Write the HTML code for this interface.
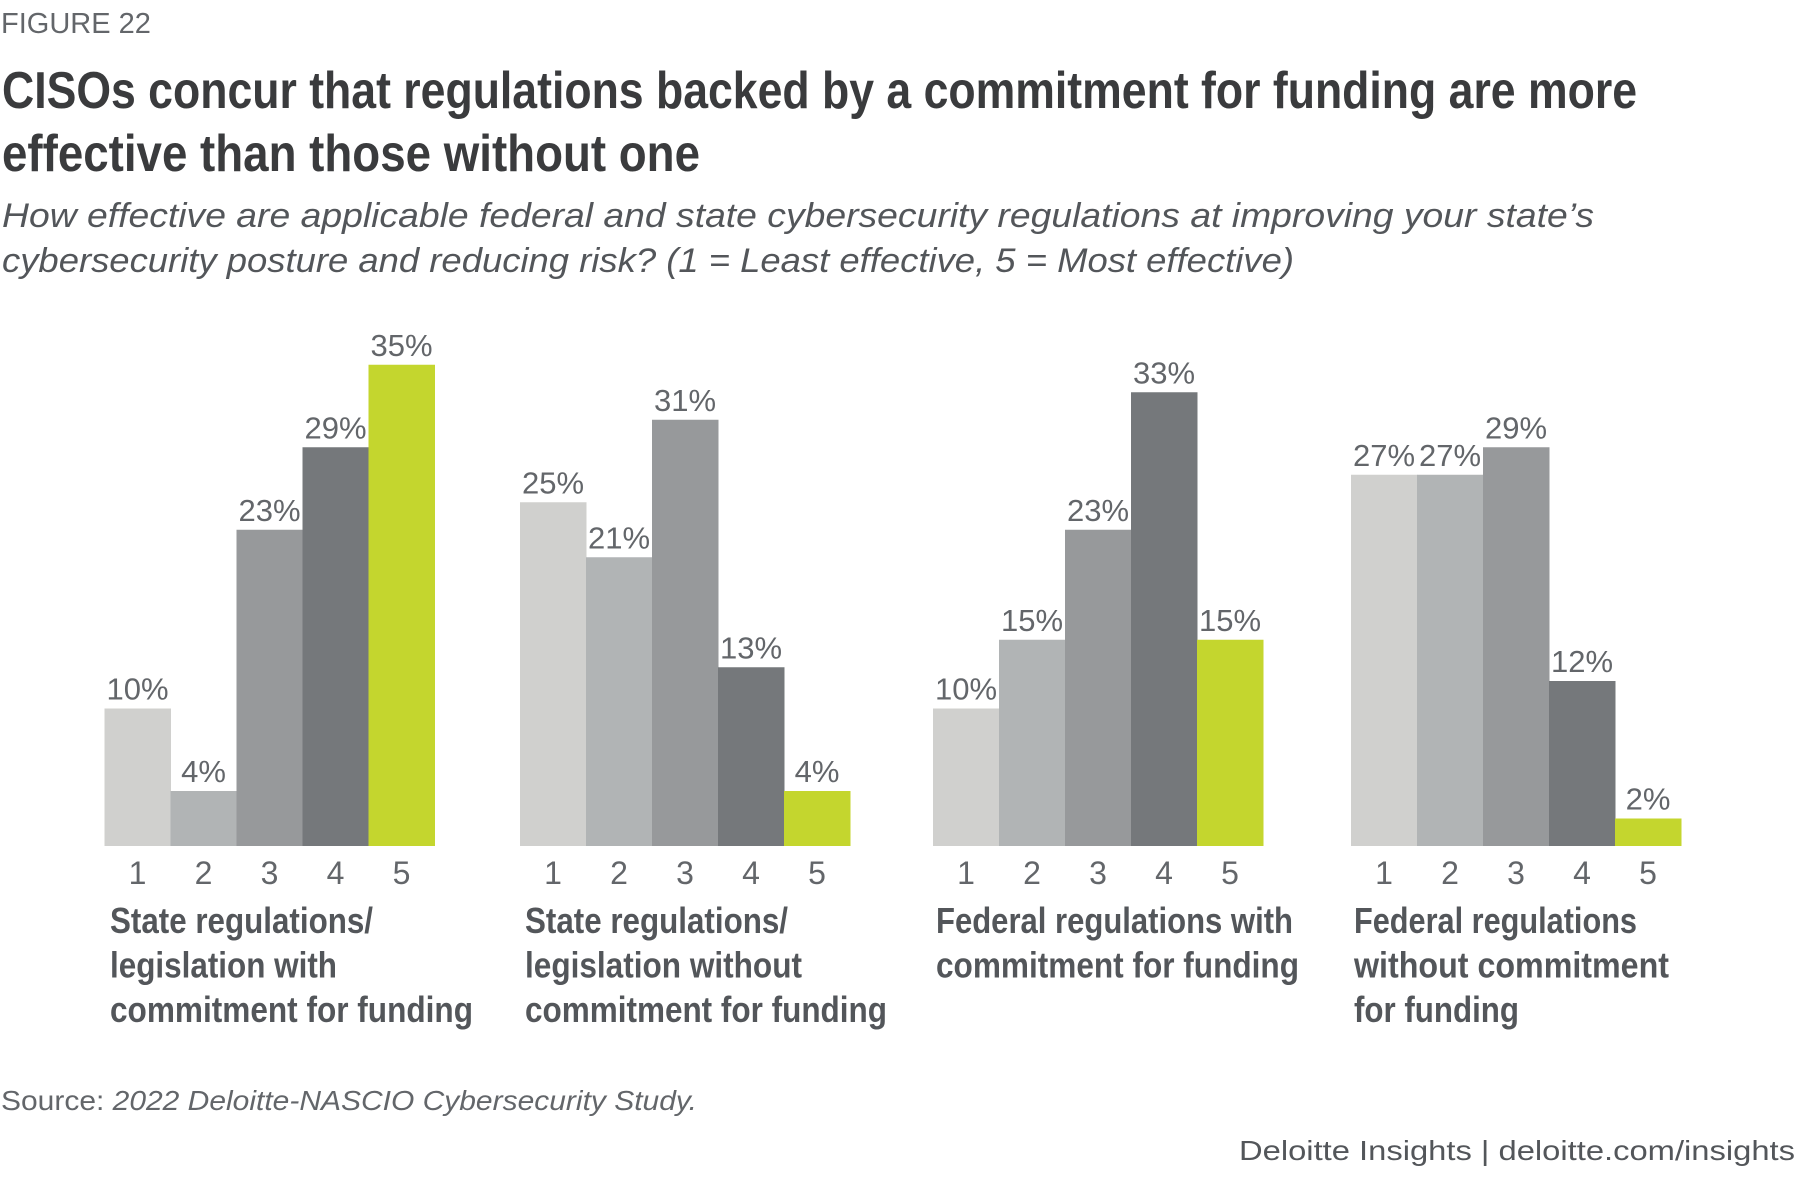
<!DOCTYPE html>
<html><head><meta charset="utf-8"><style>
html,body{margin:0;padding:0;background:#fff}
svg{display:block}
text{font-family:"Liberation Sans",sans-serif}
</style></head><body>
<svg id="chart" width="1801" height="1179" viewBox="0 0 1801 1179">
<text x="1" y="33" font-size="29" fill="#63666a">FIGURE 22</text>
<g fill="#3a3b3d" font-weight="bold" font-size="52">
<text x="2" y="108" textLength="1635" lengthAdjust="spacingAndGlyphs">CISOs concur that regulations backed by a commitment for funding are more</text>
<text x="2" y="171" textLength="698" lengthAdjust="spacingAndGlyphs">effective than those without one</text>
</g>
<g fill="#53565a" font-style="italic" font-size="34">
<text x="2" y="227" textLength="1592" lengthAdjust="spacingAndGlyphs">How effective are applicable federal and state cybersecurity regulations at improving your state’s</text>
<text x="2" y="272" textLength="1292" lengthAdjust="spacingAndGlyphs">cybersecurity posture and reducing risk? (1 = Least effective, 5 = Most effective)</text>
</g>
<g id="plot"></g>
<text x="1" y="1110" font-size="28" fill="#63666a" textLength="696" lengthAdjust="spacingAndGlyphs">Source: <tspan font-style="italic">2022 Deloitte-NASCIO Cybersecurity Study.</tspan></text>
<text x="1795" y="1160" font-size="28" fill="#53565a" text-anchor="end" textLength="556" lengthAdjust="spacingAndGlyphs">Deloitte Insights | deloitte.com/insights</text>
</svg>
<script>
const categories = ["1","2","3","4","5"];
const groupTitles = [
 ["State regulations/","legislation with","commitment for funding"],
 ["State regulations/","legislation without","commitment for funding"],
 ["Federal regulations with","commitment for funding"],
 ["Federal regulations","without commitment","for funding"]
];
const stateWith = [10,4,23,29,35];
const stateWithout = [25,21,31,13,4];
const federalWith = [10,15,23,33,15];
const federalWithout = [27,27,29,12,2];
const series = [stateWith, stateWithout, federalWith, federalWithout];

const NS="http://www.w3.org/2000/svg";
const plot=document.getElementById('plot');
const colors=["#d0d0ce","#b1b4b5","#97999b","#75787b","#c4d62e"];
const titleWidths=[[263,227,363],[263,277,362],[357,363],[283,315,165]];
const titleX=[110,525,936,1354];
const baseY=846, pxPerPct=13.75, barW=66;
const groupX=[104.5,520,933,1351];
function y(v){return baseY - v*pxPerPct;}
function x(g,i){return groupX[g]+i*barW;}
function mk(tag,attrs,txt){const e=document.createElementNS(NS,tag);for(const k in attrs)e.setAttribute(k,attrs[k]);if(txt!==undefined)e.textContent=txt;plot.appendChild(e);return e;}
series.forEach((vals,g)=>{
 vals.forEach((v,i)=>{
  const r=mk('rect',{x:x(g,i),y:y(v),width:barW+0.5,height:baseY-y(v),fill:colors[i]});
  
  
  const t=mk('text',{x:x(g,i)+barW/2,y:y(v)-9,'text-anchor':'middle','font-size':31,fill:'#63666a'},v+'%');
  
  
  const c=mk('text',{x:x(g,i)+barW/2,y:884,'text-anchor':'middle','font-size':32,fill:'#63666a'},categories[i]);
  
  
 });
 groupTitles[g].forEach((line,j)=>{
  const t=mk('text',{x:titleX[g],y:933+j*44.5,'font-size':36,'font-weight':'bold',fill:'#53565a',textLength:titleWidths[g][j],lengthAdjust:'spacingAndGlyphs'},line);
  
  
 });
});
</script>
</body></html>
